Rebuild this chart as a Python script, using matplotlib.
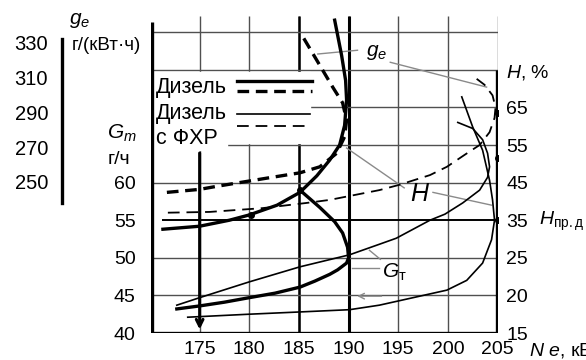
# Engine characteristics: Diesel vs Diesel with FHR
import numpy as np
import matplotlib.pyplot as plt
from matplotlib.patches import Rectangle

plt.rcParams['font.family'] = ['Liberation Sans', 'DejaVu Sans']
plt.rcParams['mathtext.fontset'] = 'custom'
plt.rcParams['mathtext.rm'] = 'Liberation Sans'
plt.rcParams['mathtext.it'] = 'Liberation Sans:italic'

# axis ticks
ne_ticks = [175, 180, 185, 190, 195, 200, 205]
gm_ticks = [40, 45, 50, 55, 60]
h_pos = [40, 45, 50, 55, 60, 65, 70]
h_labels = ['15', '20', '25', '35', '45', '55', '65']
ge_ticks = [250, 270, 290, 310, 330]

# curves in main-axis units (Ne, Gm scale)
# Diesel, thick solid, g_e
ne_d_ge = [171.3, 175.0, 178.0, 180.0, 182.8, 185.1, 186.8, 188.1, 189.1, 189.6, 189.8, 189.7, 189.3, 188.6]
y_d_ge = [53.8, 54.2, 55.0, 55.7, 57.0, 58.7, 60.9, 63.0, 65.0, 67.6, 71.0, 73.6, 76.9, 81.6]
# Diesel, thick solid, G_t
ne_d_gm = [185.1, 187.1, 188.6, 189.4, 189.9, 190.0, 189.8, 188.9, 188.1, 186.6, 185.1, 182.6, 180.0, 177.5, 175.0, 172.7]
y_d_gm = [59.0, 56.7, 54.8, 53.3, 51.4, 50.0, 49.3, 48.4, 47.8, 46.9, 46.1, 45.3, 44.7, 44.1, 43.6, 43.2]
# Diesel, thick dashed
ne_d_dash = [171.7, 175.0, 176.7, 181.8, 185.1, 187.1, 188.8, 189.6, 189.8, 189.4, 188.4, 187.1, 185.3]
y_d_dash = [58.7, 59.1, 59.5, 60.6, 61.3, 62.1, 63.9, 66.1, 68.3, 70.6, 72.7, 75.6, 79.6]
# Diesel with FHR, thin dashed
ne_f_dash = [171.8, 176.0, 181.3, 185.8, 188.1, 193.1, 195.1, 198.2, 199.9, 201.7, 203.2, 204.2, 204.7, 204.8, 204.5, 203.7, 202.9]
y_f_dash = [56.0, 56.1, 56.6, 57.3, 57.7, 59.0, 59.7, 61.0, 62.1, 63.7, 65.0, 66.7, 68.6, 70.0, 71.6, 73.0, 73.8]
# Diesel with FHR, thin solid (upper)
ne_f_gm = [172.7, 175.0, 180.0, 185.1, 190.1, 193.1, 194.8, 198.2, 199.7, 201.5, 203.2, 204.0, 204.2, 204.0, 203.5, 202.5, 201.0]
y_f_gm = [43.7, 44.7, 46.8, 48.8, 50.4, 51.8, 52.6, 55.0, 55.8, 57.3, 59.0, 60.7, 62.1, 63.9, 65.7, 67.2, 68.0]
# Diesel with FHR, thin solid (lower)
ne_f_low = [173.8, 180.0, 185.1, 190.1, 193.1, 196.5, 198.2, 199.9, 201.9, 203.5, 204.4, 204.7, 204.5, 204.2, 203.5, 202.5, 201.4]
y_f_low = [42.1, 42.5, 42.8, 43.1, 43.7, 44.7, 45.2, 45.7, 47.0, 49.3, 52.4, 55.0, 57.7, 60.3, 64.3, 67.4, 71.4]
# H_pr.d level and marked points
y_hprd = 55.0
dot_ne = [205, 205, 205, 180.2, 185.1]
dot_y = [69.2, 63.3, 55.0, 55.7, 59.0]

fig = plt.figure(figsize=(5.86, 3.6), dpi=100)
ax = fig.add_axes([151/586, 27/360, 347/586, 319.6/360])
ax.set_xlim(170.1, 205.05)
ax.set_ylim(40, 82.5)
for s in ax.spines.values():
    s.set_visible(False)

# grid
grey = '#505050'
ax.vlines(ne_ticks, 40, 82.2, color=grey, lw=1.0, zorder=1)
ax.vlines(185, 40, 82.2, color='k', lw=1.8, zorder=1)
ax.vlines(190, 40, 82.2, color='k', lw=2.2, zorder=1)
ax.hlines([45, 50, 60, 65, 70, 75, 80], 170.1, 205, color=grey, lw=1.0, zorder=1)
ax.hlines(y_hprd, 171.2, 205, color='k', lw=1.4, zorder=2)
ax.hlines(40, 170.1, 205.05, color='k', lw=2.4, zorder=3)
ax.vlines(170.25, 40, 81.3, color='k', lw=2.4, zorder=3)
ax.vlines(204.9, 40, 75, color='k', lw=2.4, zorder=3)
# legend area blanked
ax.add_patch(Rectangle((170.4, 65.3), 15.7, 9.4, color='white', zorder=1.5))
ax.add_patch(Rectangle((170.4, 64.3), 7.4, 1.1, color='white', zorder=1.5))

# curves
ax.plot(ne_d_ge, y_d_ge, color='k', lw=2.4, zorder=4)
ax.plot(ne_d_gm, y_d_gm, color='k', lw=2.4, zorder=4)
ax.plot(ne_d_dash, y_d_dash, color='k', lw=2.4, ls=(0, (3.5, 2)), zorder=4)
ax.plot(ne_f_dash, y_f_dash, color='k', lw=1.3, ls=(0, (6.5, 3.8)), zorder=4)
ax.plot(ne_f_gm, y_f_gm, color='k', lw=1.2, zorder=4)
ax.plot(ne_f_low, y_f_low, color='k', lw=1.2, zorder=4)
ax.plot(dot_ne, dot_y, 'o', color='k', ms=4, zorder=5)

# 175 arrow
ax.annotate('', xy=(175, 40.1), xytext=(175, 64.3),
            arrowprops=dict(arrowstyle='->', lw=2.2, color='k', mutation_scale=12), zorder=5)

# legend (drawn by hand)
ax.plot([178.8, 186.3], [73.5, 73.5], color='k', lw=2.4, zorder=4)
ax.plot([178.8, 186.3], [72.2, 72.2], color='k', lw=2.4, ls=(0, (3.5, 2)), zorder=4)
ax.plot([178.8, 186.1], [69.1, 69.1], color='k', lw=1.2, zorder=4)
ax.plot([178.8, 186.1], [67.5, 67.5], color='k', lw=1.3, ls=(0, (6.5, 3.8)), zorder=4)
ax.text(170.6, 72.7, 'Дизель', fontsize=15.5, va='center')
ax.text(170.6, 69.2, 'Дизель', fontsize=15.5, va='center')
ax.text(170.6, 65.9, 'с ФХР', fontsize=15.5, va='center')

# leaders and labels
lc = '#8a8a8a'
for (x0, y0), (x1, y1) in [((190.9, 77.6), (186.9, 77.1)),
                           ((194.2, 76.0), (203.9, 72.7)),
                           ((189.8, 64.6), (195.6, 59.3)),
                           ((198.5, 58.7), (204.4, 57.0)),
                           ((193.1, 48.6), (190.3, 48.6)),
                           ((192.1, 51.0), (193.2, 49.8))]:
    ax.plot([x0, x1], [y0, y1], color=lc, lw=1.0, zorder=3)
ax.annotate('', xy=(190.6, 44.9), xytext=(193.6, 44.9),
            arrowprops=dict(arrowstyle='->', lw=1.0, color=lc), zorder=3)
ax.text(192.8, 77.3, '$g_e$', fontsize=15, ha='center', va='center')
ax.text(197.2, 58.5, '$H$', fontsize=18, ha='center', va='center')
ax.text(194.6, 48.0, r'$G_{\mathrm{т}}$', fontsize=15, ha='center', va='center')

# ticks
ax.set_xticks(ne_ticks)
ax.set_yticks(gm_ticks)
ax.tick_params(axis='both', length=0, labelsize=14)
ax.tick_params(axis='x', pad=6)
ax.tick_params(axis='y', pad=11)

ax2 = ax.twinx()
ax2.set_position(ax.get_position())
ax2.set_ylim(ax.get_ylim())
for s in ax2.spines.values():
    s.set_visible(False)
ax2.set_yticks(h_pos + [75])
ax2.set_yticklabels(h_labels + ['$H$, %'])
ax2.tick_params(axis='y', length=0, labelsize=14, pad=6)

# left g_e scale
axg = fig.add_axes([62/586, 27/360, 0.0001, 319.6/360])
axg.set_ylim(163.1, 347.0)
axg.patch.set_visible(False)
for k in ['top', 'right', 'bottom']:
    axg.spines[k].set_visible(False)
axg.spines['left'].set_bounds(238, 332)
axg.spines['left'].set_linewidth(2.4)
axg.set_xticks([])
axg.set_yticks(ge_ticks)
axg.tick_params(axis='y', length=0, labelsize=14.5, pad=10)

fig.text(80/586, 1 - 20/360, '$g_e$', fontsize=15, ha='center', va='center')
fig.text(72/586, 1 - 45/360, 'г/(кВт·ч)', fontsize=13.5, ha='left', va='center')
fig.text(122/586, 1 - 133/360, '$G_m$', fontsize=15, ha='center', va='center')
fig.text(119/586, 1 - 160/360, 'г/ч', fontsize=14, ha='center', va='center')
fig.text(539/586, 1 - 221/360, r'$H_{\mathrm{пр.д}}$', fontsize=14, ha='left', va='center')
fig.text(529/586, 1 - 351/360, r'$N\ e$, кВт', fontsize=14, ha='left', va='center')

fig.savefig('out.png', dpi=100)
